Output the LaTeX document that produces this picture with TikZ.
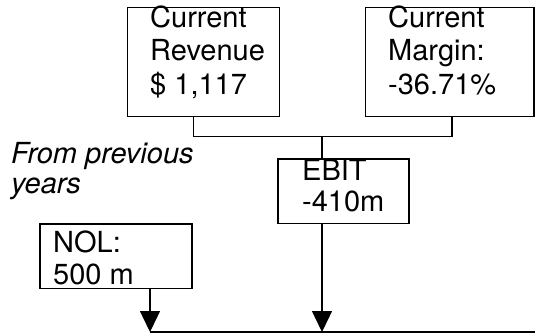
\documentclass[tikz,border=0pt]{standalone}
\usepackage{fontspec}
\setmainfont{TeX Gyre Heros}
\usetikzlibrary{arrows.meta}
\tikzset{box/.style={draw, line width=1.3pt, inner sep=0pt},
 txt/.style={anchor=base west, inner sep=0pt, align=left,
   font=\fontsize{29}{31.5}\selectfont},
 tall/.style={font=\fontsize{29}{33.3}\selectfont},
 link/.style={draw, line width=1.3pt},
 flow/.style={draw, line width=1.3pt, -{Triangle[width=20pt,length=21pt]}},
 }

\begin{document}
\begin{tikzpicture}[x=1pt,y=-1pt]
        \useasboundingbox (0,0) rectangle (535,333);
        \node[box, minimum width=152pt, minimum height=109pt] (rev) at (203.2, 61.7) {};
        \node[box, minimum width=168.3pt, minimum height=109pt] (mar) at (449.9, 61.7) {};
        \node[box, minimum width=131pt, minimum height=64.5pt] (ebit) at (343.5, 191.2) {};
        \node[box, minimum width=152pt, minimum height=64.5pt] (nol) at (116, 256.2) {};
        % text nodes sit on the baseline of their last line
        \node[txt, tall] (revtxt) at (150, 94) {Current\\Revenue\\\$ 1,117};
        \node[txt, tall] (martxt) at (388, 94) {Current\\Margin:\\-36.71\%};
        \node[txt] (ebittxt) at (302, 211.7) {EBIT\\-410m};
        \node[txt] (noltxt) at (53, 284) {NOL:\\500 m};
        \node[txt, font=\fontsize{29}{30}\selectfont\itshape] (prev) at (11, 193) {From previous\\years};
        \coordinate (join) at (322, 136.5);
        \coordinate (end) at (535, 332);
        \draw[link] ([xshift=-10pt]rev.south) |- (join) -| ([xshift=2pt]mar.south);
        \draw[link] (join) -- (join |- ebit.north);
        \draw[flow] (join |- ebit.south) -- (join |- end);
        \draw[flow] ([xshift=34pt]nol.south) -- ([xshift=34pt]nol.south |- end);
        \draw[link] ([xshift=34pt]nol.south |- end) -- (end);
    \end{tikzpicture}
\end{document}
